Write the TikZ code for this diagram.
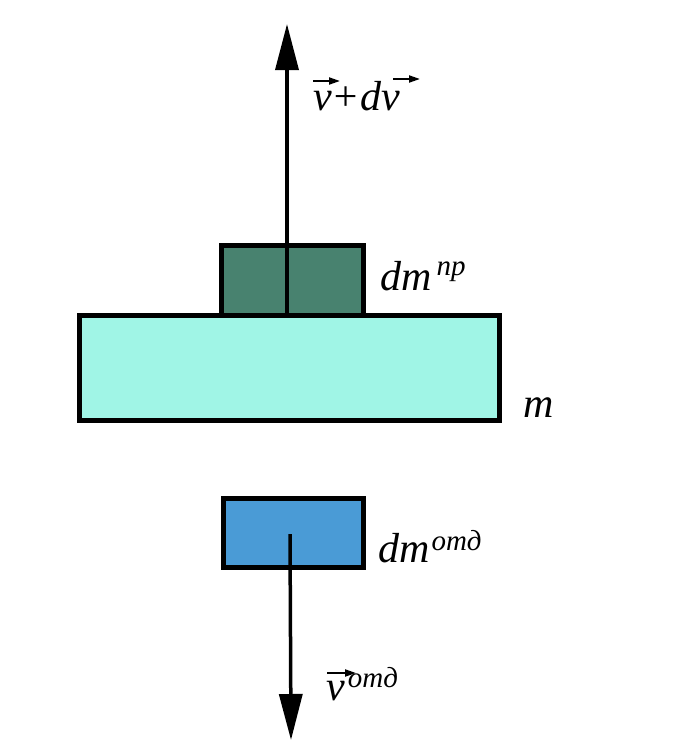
\documentclass[tikz,border=0pt]{standalone}
\usepackage{fontspec}
\setmainfont{Liberation Serif}
\usetikzlibrary{arrows.meta}
\definecolor{smallgreen}{HTML}{48826F}
\definecolor{bigaqua}{HTML}{A0F5E6}
\definecolor{blueblock}{HTML}{4A9BD6}
\newcommand\bigit{\fontsize{42}{42}\selectfont\itshape}
\newcommand\supit{\fontsize{29}{29}\selectfont\itshape}
\begin{document}
\begin{tikzpicture}[x=1pt,y=-1pt,
  block/.style={draw=black,line width=4.5pt},
  mainarrow/.style={line width=3.5pt,-{Triangle[length=46pt,width=23pt]}},
  vecarrow/.style={line width=2pt,-{Triangle[length=11pt,width=7pt]}},
  lbl/.style={inner sep=0pt,anchor=base west}]
\useasboundingbox (0,0) rectangle (693,740);
% blocks
\node[block,fill=bigaqua,minimum width=420pt,minimum height=105pt,inner sep=0pt,anchor=north west] (big) at (77,313) {};
\node[block,fill=smallgreen,minimum width=142pt,minimum height=70pt,inner sep=0pt,anchor=north west] (small) at (219,243) {};
\node[block,fill=blueblock,minimum width=140pt,minimum height=69pt,inner sep=0pt,anchor=north west] (blue) at (221,496) {};
% arrows
\coordinate (upstart) at (287,313);
\coordinate (uptip) at (287,24);
\draw[mainarrow] (upstart) -- (uptip);
\coordinate (downstart) at (290,534);
\coordinate (downtip) at (291,740);
\draw[mainarrow] (downstart) -- (downtip);
% labels
\node[lbl] (vdv) at (313,110) {\bigit v+dv};
\draw[vecarrow] (313,81) -- (340,81);
\draw[vecarrow] (393,79) -- (420,79);
\node[lbl] (dmpr) at (380,290) {\bigit dm\hspace{5pt}\raisebox{15pt}{\supit пр}};
\node[lbl] (m) at (523,417) {\bigit m};
\node[lbl] (dmotd) at (378,562) {\bigit dm\hspace{2pt}\raisebox{12pt}{\supit отд}};
\node[lbl] (votd) at (326,700) {\bigit v\hspace{3pt}\raisebox{13pt}{\supit отд}};
\draw[vecarrow] (327,673) -- (356,673);
\end{tikzpicture}
\end{document}
